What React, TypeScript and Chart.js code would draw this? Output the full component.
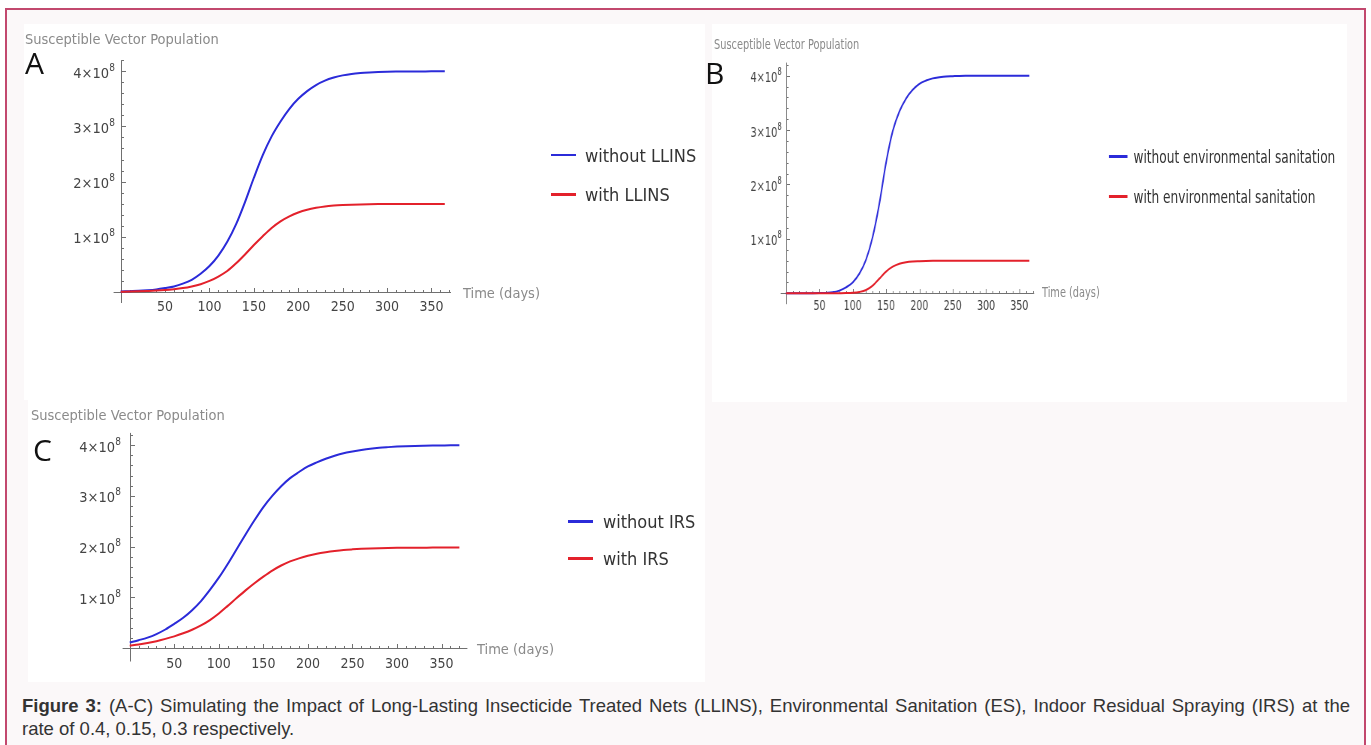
import React, { useEffect, useRef } from "react";
import { Chart, registerables } from "chart.js";

Chart.register(...registerables);

// ---------------- data (y in units of 10^8) ----------------
const daysA = [0, 10, 20, 30, 40, 50, 60, 70, 80, 90, 100, 110, 120, 130, 140, 150, 160, 170, 180, 190, 200, 210, 220, 230, 240, 250, 260, 270, 280, 290, 300, 310, 320, 330, 340, 350, 360, 365];
const withoutLLINS = [0.01, 0.015, 0.02, 0.03, 0.045, 0.07, 0.1, 0.15, 0.22, 0.33, 0.47, 0.66, 0.91, 1.23, 1.63, 2.07, 2.48, 2.82, 3.09, 3.32, 3.5, 3.64, 3.75, 3.83, 3.885, 3.925, 3.952, 3.968, 3.978, 3.985, 3.99, 3.993, 3.995, 3.996, 3.997, 3.998, 3.998, 3.998];
const withLLINS = [0.005, 0.008, 0.012, 0.018, 0.025, 0.035, 0.05, 0.07, 0.1, 0.14, 0.2, 0.28, 0.38, 0.52, 0.68, 0.85, 1.01, 1.16, 1.28, 1.37, 1.44, 1.49, 1.525, 1.55, 1.565, 1.575, 1.582, 1.587, 1.59, 1.592, 1.593, 1.594, 1.594, 1.595, 1.595, 1.595, 1.595, 1.595];

const daysB = [0, 10, 20, 30, 40, 50, 60, 70, 80, 90, 100, 110, 120, 130, 140, 150, 160, 170, 180, 190, 200, 210, 220, 230, 240, 250, 260, 270, 280, 290, 300, 310, 320, 330, 340, 350, 360, 365];
const withoutES = [0.0, 0.0, 0.0, 0.001, 0.002, 0.004, 0.008, 0.018, 0.05, 0.11, 0.2, 0.36, 0.62, 1.04, 1.65, 2.4, 2.98, 3.34, 3.58, 3.74, 3.85, 3.91, 3.95, 3.97, 3.985, 3.99, 3.995, 3.997, 3.998, 3.998, 3.999, 3.999, 3.999, 3.999, 3.999, 3.999, 3.999, 3.999];
const withES = [0.0, 0.0, 0.0, 0.0, 0.0, 0.0, 0.001, 0.001, 0.002, 0.004, 0.01, 0.025, 0.06, 0.14, 0.27, 0.4, 0.49, 0.545, 0.572, 0.585, 0.59, 0.594, 0.597, 0.598, 0.599, 0.6, 0.6, 0.6, 0.6, 0.6, 0.6, 0.6, 0.6, 0.6, 0.6, 0.6, 0.6, 0.6];

const daysC = [0, 10, 20, 30, 40, 50, 60, 70, 80, 90, 100, 110, 120, 130, 140, 150, 160, 170, 180, 190, 200, 210, 220, 230, 240, 250, 260, 270, 280, 290, 300, 310, 320, 330, 340, 350, 360, 370];
const withoutIRS = [0.115, 0.16, 0.21, 0.28, 0.37, 0.48, 0.6, 0.75, 0.93, 1.15, 1.39, 1.66, 1.95, 2.24, 2.52, 2.78, 3.0, 3.19, 3.35, 3.47, 3.58, 3.66, 3.73, 3.79, 3.84, 3.875, 3.905, 3.93, 3.948, 3.96, 3.97, 3.978, 3.984, 3.988, 3.991, 3.993, 3.995, 3.995];
const withIRS = [0.05, 0.075, 0.105, 0.14, 0.185, 0.235, 0.295, 0.365, 0.45, 0.555, 0.685, 0.835, 0.99, 1.14, 1.28, 1.41, 1.53, 1.63, 1.71, 1.77, 1.82, 1.86, 1.89, 1.915, 1.935, 1.948, 1.958, 1.965, 1.97, 1.974, 1.977, 1.979, 1.98, 1.981, 1.982, 1.982, 1.983, 1.983];

const xTickValues = [50, 100, 150, 200, 250, 300, 350];
const xTickLabels = ["50", "100", "150", "200", "250", "300", "350"];
const yTickValues = [1, 2, 3, 4];
const yTickLabels = ["1×10", "2×10", "3×10", "4×10"];
const yTickExponent = "8";

const yAxisTitle = "Susceptible Vector Population";
const xAxisTitle = "Time (days)";
const legendA = ["without LLINS", "with LLINS"];
const legendB = ["without environmental sanitation", "with environmental sanitation"];
const legendC = ["without IRS", "with IRS"];

// ---------------- styles ----------------
const BLUE = "#2b2bd9";
const RED = "#e3212b";
const FONT = '"DejaVu Sans Condensed", "DejaVu Sans", sans-serif';

const axesPlugin = {
  id: "mmaAxes",
  beforeDatasetsDraw(chart: any) {
    const { ctx } = chart;
    const x = chart.scales.x;
    const y = chart.scales.y;
    const x0 = Math.round(x.getPixelForValue(0)) + 0.5;
    const y0 = Math.round(y.getPixelForValue(0)) + 0.5;
    ctx.save();
    ctx.strokeStyle = "#707070";
    ctx.lineWidth = 1;
    ctx.beginPath();
    ctx.moveTo(x.left, y0);
    ctx.lineTo(x.right, y0);
    ctx.moveTo(x0, y.top);
    ctx.lineTo(x0, y.bottom);
    for (let k = 1; k * 10 <= x.max; k++) {
      const px = Math.round(x.getPixelForValue(k * 10)) + 0.5;
      const len = k % 5 === 0 ? 4.5 : 2.5;
      ctx.moveTo(px, y0);
      ctx.lineTo(px, y0 - len);
    }
    for (let k = 1; k * 0.2 <= y.max + 1e-9; k++) {
      const py = Math.round(y.getPixelForValue(k * 0.2)) + 0.5;
      const len = k % 5 === 0 ? 4.5 : 2.5;
      ctx.moveTo(x0, py);
      ctx.lineTo(x0 + len, py);
    }
    ctx.stroke();

    // y tick labels with a raised exponent, placed by the y scale
    const pad = chart.options.plugins.mmaAxes?.yPad ?? 6;
    ctx.fillStyle = "#444";
    ctx.textBaseline = "alphabetic";
    ctx.textAlign = "right";
    ctx.font = `10px ${FONT}`;
    const supW = ctx.measureText(yTickExponent).width;
    yTickValues.forEach((v, i) => {
      const py = y.getPixelForValue(v);
      const right = x0 - 0.5 - pad;
      ctx.font = `10px ${FONT}`;
      ctx.fillText(yTickExponent, right, py - 0.5);
      ctx.font = `14.5px ${FONT}`;
      ctx.fillText(yTickLabels[i], right - supW - 0.3, py + 6.5);
    });
    ctx.restore();
  },
};

type Spec = {
  days: number[];
  without: number[];
  withS: number[];
  w: number;
  h: number;
  padding: { left: number; right: number; top: number; bottom: number };
  xMin: number;
  xMax: number;
  yMin: number;
  yMax: number;
  xPad: number;
  yPad: number;
};

function SimChart({ spec }: { spec: Spec }) {
  const ref = useRef<HTMLCanvasElement>(null);
  useEffect(() => {
    const chart = new Chart(ref.current as HTMLCanvasElement, {
      type: "line",
      data: {
        datasets: [
          {
            label: "without",
            data: spec.days.map((d, i) => ({ x: d, y: spec.without[i] })),
            borderColor: BLUE,
            borderWidth: 2,
            pointRadius: 0,
            cubicInterpolationMode: "monotone",
            fill: false,
            order: 1,
          },
          {
            label: "with",
            data: spec.days.map((d, i) => ({ x: d, y: spec.withS[i] })),
            borderColor: RED,
            borderWidth: 2,
            pointRadius: 0,
            cubicInterpolationMode: "monotone",
            fill: false,
            order: 0,
          },
        ],
      },
      options: {
        animation: false,
        responsive: false,
        events: [],
        layout: { padding: spec.padding },
        plugins: {
          legend: { display: false },
          title: { display: false },
          tooltip: { enabled: false },
          mmaAxes: { yPad: spec.yPad },
        },
        scales: {
          x: {
            type: "linear",
            min: spec.xMin,
            max: spec.xMax,
            position: { y: 0 } as any,
            grid: { display: false, drawTicks: false },
            border: { display: false },
            afterBuildTicks: (s: any) => {
              s.ticks = xTickValues.map((v) => ({ value: v }));
            },
            ticks: {
              autoSkip: false,
              maxRotation: 0,
              padding: spec.xPad,
              color: "#444",
              font: { family: FONT, size: 14 },
              callback: (v: any) => {
                const i = xTickValues.indexOf(Number(v));
                return i >= 0 ? xTickLabels[i] : "";
              },
            },
          },
          y: {
            type: "linear",
            min: spec.yMin,
            max: spec.yMax,
            position: { x: 0 } as any,
            grid: { display: false, drawTicks: false },
            border: { display: false },
            afterBuildTicks: (s: any) => {
              s.ticks = yTickValues.map((v) => ({ value: v }));
            },
            ticks: { display: false },
          },
        },
      } as any,
      plugins: [axesPlugin],
    });
    return () => chart.destroy();
  }, []);
  return (
    <canvas
      ref={ref}
      width={spec.w}
      height={spec.h}
      style={{ position: "absolute", left: 0, top: 0, display: "block" }}
    />
  );
}

const grayText: React.CSSProperties = {
  position: "absolute",
  fontFamily: FONT,
  fontSize: 14.5,
  lineHeight: "14px",
  color: "#8a8a8a",
  whiteSpace: "nowrap",
};

function Legend({ labels, swLeft, textLeft, tops }: { labels: string[]; swLeft: number; textLeft: number; tops: number[] }) {
  const colors = [BLUE, RED];
  return (
    <>
      {labels.map((lab, i) => (
        <React.Fragment key={lab}>
          <div
            style={{
              position: "absolute",
              left: swLeft,
              top: tops[i] + 7,
              width: 25,
              height: 2.5,
              background: colors[i],
            }}
          />
          <div
            style={{
              position: "absolute",
              left: textLeft,
              top: tops[i],
              fontFamily: FONT,
              fontSize: 18,
              lineHeight: "18px",
              color: "#333",
              whiteSpace: "nowrap",
            }}
          >
            {lab}
          </div>
        </React.Fragment>
      ))}
    </>
  );
}

const specA: Spec = {
  days: daysA,
  without: withoutLLINS,
  withS: withLLINS,
  w: 681,
  h: 376,
  padding: { left: 89.6, right: 254, top: 36.2, bottom: 97 },
  xMin: -8,
  xMax: 372,
  yMin: -0.2,
  yMax: 4.2,
  xPad: 7,
  yPad: 6,
};

const specB: Spec = {
  days: daysB,
  without: withoutES,
  withS: withES,
  w: 847,
  h: 378,
  padding: { left: 91.6, right: 417.6, top: 38.6, bottom: 97.8 },
  xMin: -8,
  xMax: 372,
  yMin: -0.2,
  yMax: 4.24,
  xPad: 5,
  yPad: 6,
};

const specC: Spec = {
  days: daysC,
  without: withoutIRS,
  withS: withIRS,
  w: 677,
  h: 282,
  padding: { left: 94.6, right: 237.6, top: 32.9, bottom: 20.5 },
  xMin: -8,
  xMax: 379,
  yMin: -0.26,
  yMax: 4.24,
  xPad: 7.5,
  yPad: 9,
};

const letterStyle: React.CSSProperties = {
  position: "absolute",
  fontFamily: '"Open Sans", sans-serif',
  fontSize: 30,
  lineHeight: "30px",
  color: "#111",
};

export default function App() {
  return (
    <div
      style={{
        position: "fixed",
        left: 0,
        top: 0,
        width: 1371,
        height: 745,
        overflow: "hidden",
        background: "#ffffff",
      }}
    >
      <div
        style={{
          position: "absolute",
          left: 5,
          top: 8,
          width: 1361,
          height: 780,
          boxSizing: "border-box",
          border: "2px solid #c2486e",
          background: "#fbf8f9",
        }}
      />
      {/* Panel A */}
      <div style={{ position: "absolute", left: 24, top: 24, width: 681, height: 376, background: "#fff" }}>
        <SimChart spec={specA} />
        <div style={{ ...grayText, left: 1, top: 8 }}>{yAxisTitle}</div>
        <div style={{ ...grayText, left: 439, top: 262 }}>{xAxisTitle}</div>
        <Legend labels={legendA} swLeft={527} textLeft={561} tops={[122.5, 162]} />
      </div>
      {/* Panel C */}
      <div style={{ position: "absolute", left: 28, top: 400, width: 677, height: 282, background: "#fff" }}>
        <SimChart spec={specC} />
        <div style={{ ...grayText, left: 3, top: 8 }}>{yAxisTitle}</div>
        <div style={{ ...grayText, left: 449, top: 242 }}>{xAxisTitle}</div>
        <Legend labels={legendC} swLeft={540} textLeft={575} tops={[113, 150]} />
      </div>
      {/* Panel B (horizontally compressed, as in the figure) */}
      <div style={{ position: "absolute", left: 712, top: 24, width: 635, height: 378, background: "#fff", overflow: "hidden" }}>
        <div
          style={{
            position: "absolute",
            left: 0,
            top: 0,
            width: 847,
            height: 378,
            transform: "scaleX(0.75)",
            transformOrigin: "0 0",
          }}
        >
          <SimChart spec={specB} />
          <div style={{ ...grayText, left: 2.7, top: 13 }}>{yAxisTitle}</div>
          <div style={{ ...grayText, left: 440, top: 261 }}>{xAxisTitle}</div>
          <Legend labels={legendB} swLeft={529} textLeft={562} tops={[124, 164]} />
        </div>
      </div>
      {/* panel letters */}
      <div style={{ ...letterStyle, left: 25, top: 48 }}>A</div>
      <div style={{ ...letterStyle, left: 705, top: 58 }}>B</div>
      <div style={{ ...letterStyle, left: 33, top: 435 }}>C</div>
      {/* caption */}
      <div
        style={{
          position: "absolute",
          left: 22,
          top: 694,
          width: 1328,
          fontFamily: '"Liberation Sans", Arial, sans-serif',
          fontSize: 18.5,
          lineHeight: "23px",
          color: "#333",
        }}
      >
        <div style={{ textAlign: "justify", textAlignLast: "justify", whiteSpace: "nowrap" } as React.CSSProperties}>
          <b>Figure 3:</b> (A-C) Simulating the Impact of Long-Lasting Insecticide Treated Nets (LLINS), Environmental Sanitation (ES), Indoor Residual Spraying (IRS) at the
        </div>
        <div>rate of 0.4, 0.15, 0.3 respectively.</div>
      </div>
    </div>
  );
}
